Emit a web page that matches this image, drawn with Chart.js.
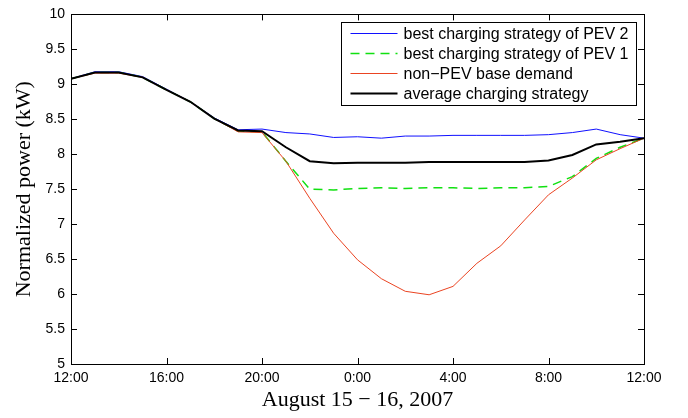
<!DOCTYPE html>
<html>
<head>
<meta charset="utf-8">
<script src="https://cdn.jsdelivr.net/npm/chart.js@4.4.1/dist/chart.umd.min.js"></script>
<style>
html,body{margin:0;padding:0;background:#fff;}
canvas{display:block;}
</style>
</head>
<body>
<canvas id="c" width="688" height="418"></canvas>
<script>
// ---- data ----
const hours = [0,1,2,3,4,5,6,7,8,9,10,11,12,13,14,15,16,17,18,19,20,21,22,23,24];
const xTickLabels = ['12:00','16:00','20:00','0:00','4:00','8:00','12:00'];
const pev2Best = [9.08,9.18,9.18,9.11,8.93,8.75,8.52,8.35,8.36,8.31,8.29,8.24,8.25,8.23,8.26,8.26,8.27,8.27,8.27,8.27,8.28,8.31,8.36,8.28,8.23];
const pev1Best = [9.08,9.17,9.17,9.10,8.92,8.75,8.51,8.33,8.32,7.90,7.50,7.49,7.51,7.52,7.51,7.52,7.52,7.51,7.52,7.52,7.54,7.68,7.94,8.10,8.23];
const baseDemand = [9.08,9.16,9.16,9.10,8.92,8.75,8.51,8.32,8.31,7.90,7.37,6.87,6.49,6.22,6.04,5.99,6.11,6.44,6.69,7.06,7.42,7.66,7.92,8.08,8.23];
const avgStrategy = [9.08,9.17,9.17,9.10,8.92,8.75,8.51,8.34,8.33,8.10,7.90,7.87,7.88,7.88,7.88,7.89,7.89,7.89,7.89,7.89,7.91,7.99,8.14,8.18,8.23];
const seriesLabels = ['best charging strategy of PEV 2','best charging strategy of PEV 1','non\u2212PEV base demand','average charging strategy'];

const pts = arr => arr.map((v,i)=>({x:hours[i], y:v}));

const frameTicks = {
  id:'frameTicks',
  afterDraw(chart){
    const ctx = chart.ctx, a = chart.chartArea;
    const xs = chart.scales.x, ys = chart.scales.y;
    ctx.save();
    ctx.strokeStyle = '#000';
    ctx.lineWidth = 1;
    ctx.strokeRect(Math.round(a.left)+0.5, Math.round(a.top)+0.5, Math.round(a.right-a.left), Math.round(a.bottom-a.top));
    const L = 6;
    ctx.beginPath();
    xs.ticks.forEach(t=>{
      const px = Math.round(xs.getPixelForValue(t.value))+0.5;
      ctx.moveTo(px, a.bottom); ctx.lineTo(px, a.bottom-L);
      ctx.moveTo(px, a.top); ctx.lineTo(px, a.top+L);
    });
    ys.ticks.forEach(t=>{
      const py = Math.round(ys.getPixelForValue(t.value))+0.5;
      ctx.moveTo(a.left, py); ctx.lineTo(a.left+L, py);
      ctx.moveTo(a.right, py); ctx.lineTo(a.right-L, py);
    });
    ctx.stroke();

    // legend
    const bx = Math.round(a.right) - 302.5, by = Math.round(a.top) + 8.5, bw = 295, bh = 83;
    ctx.fillStyle = '#fff';
    ctx.fillRect(bx, by, bw, bh);
    ctx.strokeStyle = '#000';
    ctx.lineWidth = 1;
    ctx.strokeRect(bx, by, bw, bh);
    ctx.font = '16px "Liberation Sans", Arial, sans-serif';
    ctx.textBaseline = 'middle';
    ctx.textAlign = 'left';
    chart.data.datasets.forEach((ds,i)=>{
      const cy = by + 11 + i*20;
      ctx.save();
      ctx.strokeStyle = ds.borderColor;
      ctx.lineWidth = ds.borderWidth;
      ctx.setLineDash(ds.borderDash || []);
      ctx.beginPath();
      ctx.moveTo(bx+9, cy); ctx.lineTo(bx+56, cy);
      ctx.stroke();
      ctx.restore();
      ctx.fillStyle = '#000';
      ctx.fillText(ds.label, bx+62, cy+1);
    });
    ctx.restore();
  }
};

new Chart(document.getElementById('c'), {
  type:'line',
  data:{
    datasets:[
      {label:seriesLabels[0], data:pts(pev2Best), borderColor:'#1010ff', borderWidth:1, pointRadius:0, order:3, tension:0},
      {label:seriesLabels[1], data:pts(pev1Best), borderColor:'#11e011', borderWidth:1.5, borderDash:[9,6], pointRadius:0, order:2, tension:0},
      {label:seriesLabels[2], data:pts(baseDemand), borderColor:'#ea4422', borderWidth:1, pointRadius:0, order:1, tension:0},
      {label:seriesLabels[3], data:pts(avgStrategy), borderColor:'#000000', borderWidth:2, pointRadius:0, order:0, tension:0}
    ]
  },
  options:{
    responsive:false,
    animation:false,
    devicePixelRatio:1,
    layout:{padding:{top:6,right:44,left:0,bottom:0}},
    plugins:{legend:{display:false}, tooltip:{enabled:false}},
    scales:{
      x:{
        type:'linear', min:0, max:24,
        afterFit(s){ s.height = 54; },
        grid:{display:false, drawTicks:false},
        border:{display:true, color:'#000', width:1},
        ticks:{stepSize:4, padding:6, color:'#000', maxRotation:0,
          font:{family:'"Liberation Sans", Arial, sans-serif', size:14},
          callback:(v)=> xTickLabels[Math.round(v/4)] },
        title:{display:true, text:'August 15 \u2212 16, 2007', color:'#000',
          font:{family:'"Liberation Serif", "Times New Roman", serif', size:22},
          padding:{top:0,bottom:5}}
      },
      y:{
        min:5, max:10,
        afterFit(s){ s.width = 71; },
        grid:{display:false, drawTicks:false},
        border:{display:true, color:'#000', width:1},
        ticks:{stepSize:0.5, padding:6, color:'#000',
          font:{family:'"Liberation Sans", Arial, sans-serif', size:14},
          callback:(v)=> String(v)},
        title:{display:true, text:'Normalized power (kW)', color:'#000',
          font:{family:'"Liberation Serif", "Times New Roman", serif', size:22},
          padding:{top:11.5,bottom:0}}
      }
    }
  },
  plugins:[frameTicks]
});
</script>
</body>
</html>
